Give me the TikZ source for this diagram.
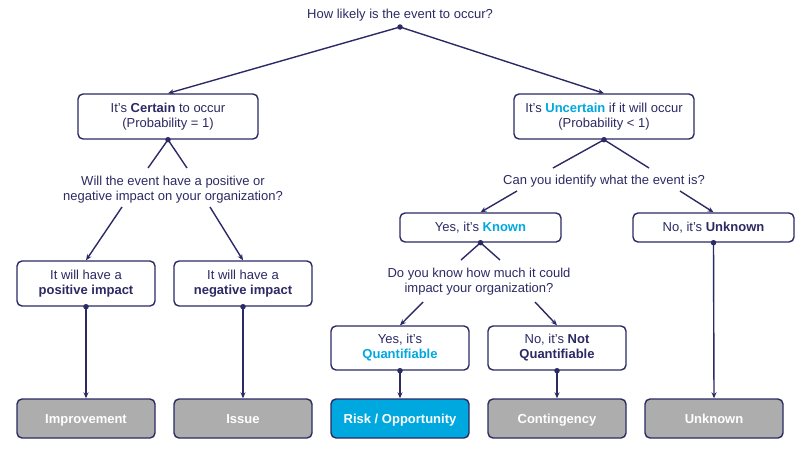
\documentclass[tikz,border=0pt]{standalone}
\usepackage{fontspec}
\setmainfont{Liberation Sans}
\usetikzlibrary{arrows.meta}

\definecolor{navy}{RGB}{43,42,100}
\definecolor{cyanblue}{RGB}{0,168,224}
\definecolor{boxgray}{RGB}{173,173,173}
\newcommand\basefont{\fontsize{13}{15}\selectfont}
\newcommand\hl[1]{\textcolor{cyanblue}{\textbf{#1}}}

\tikzset{
  box/.style={draw=navy, line width=1.4pt, rounded corners=5pt, fill=white, text=navy,
    align=center, inner sep=0pt, font=\basefont},
  endbox/.style={box, minimum width=138pt, minimum height=39pt, font=\basefont\bfseries, text=white,
    text height=11pt, text depth=1.7pt},
  quest/.style={text=navy, align=center, inner sep=1pt, font=\basefont},
  link/.style={navy, line width=1.4pt},
  arr/.style={link, -{Stealth[length=6pt,width=5pt]}},
  dot/.style={circle, fill=navy, inner sep=0pt, minimum size=5.5pt},
}

\begin{document}
\begin{tikzpicture}[x=1pt, y=-1pt]
  \useasboundingbox (0,0) rectangle (800,450);
  % questions
  \node[quest] (q0) at (400,15) {How likely is the event to occur?};
  \node[quest] (q1) at (173,190) {Will the event have a positive or\\negative impact on your organization?};
  \node[quest] (q2) at (604,181) {Can you identify what the event is?};
  \node[quest] (q3) at (479,282) {Do you know how much it could\\impact your organization?};
  % answers
  \node[box, minimum width=180pt, minimum height=45pt] (cert) at (168,116.5) {It’s \textbf{Certain} to occur\\(Probability = 1)};
  \node[box, minimum width=180pt, minimum height=45pt] (unc) at (604,116.5) {It’s \hl{Uncertain} if it will occur\\(Probability < 1)};
  \node[box, minimum width=138pt, minimum height=45pt] (pos) at (86,283.5) {It will have a\\\textbf{positive impact}};
  \node[box, minimum width=138pt, minimum height=45pt] (neg) at (243,283.5) {It will have a\\\textbf{negative impact}};
  \node[box, minimum width=161pt, minimum height=29pt] (known) at (480.5,227.5) {Yes, it’s \hl{Known}};
  \node[box, minimum width=161pt, minimum height=29pt] (unkq) at (713.5,227.5) {No, it’s \textbf{Unknown}};
  \node[box, minimum width=138pt, minimum height=44pt] (quant) at (400,348) {Yes, it’s\\\hl{Quantifiable}};
  \node[box, minimum width=138pt, minimum height=44pt] (notq) at (557,348) {No, it’s \textbf{Not}\\\textbf{Quantifiable}};
  % outcomes
  \foreach \t/\c [count=\i] in {Improvement/boxgray, Issue/boxgray, {Risk / Opportunity}/cyanblue, Contingency/boxgray, Unknown/boxgray}
    \node[endbox, fill=\c] (e\i) at ({86+157*(\i-1)},418.5) {\t};
  % dots
  \node[dot] (d0) at (400,27) {};
  \node[dot] (d1) at (cert.south) {};
  \node[dot] (d2) at (unc.south) {};
  \node[dot] (d3) at (known.south) {};
  % free ends
  \coordinate (w1a) at (148,168); \coordinate (w1b) at (187,168);
  \coordinate (w2a) at (553,168); \coordinate (w2b) at (649,168);
  \coordinate (w3a) at (461,260); \coordinate (w3b) at (500,260);
  \coordinate (s1a) at (122,207); \coordinate (s1b) at (210,207);
  \coordinate (s2a) at (517,191); \coordinate (s2b) at (680,191);
  \coordinate (s3a) at (423,302); \coordinate (s3b) at (535,302);
  % connectors
  \draw[arr] (d0.center) -- (cert.north);
  \draw[arr] (d0.center) -- (unc.north);
  \draw[link] (w1a) -- (d1.center) -- (w1b);
  \draw[link] (w2a) -- (d2.center) -- (w2b);
  \draw[link] (w3a) -- (d3.center) -- (w3b);
  \draw[arr] (s1a) -- (pos.north);
  \draw[arr] (s1b) -- (neg.north);
  \draw[arr] (s2a) -- (known.north);
  \draw[arr] (s2b) -- (unkq.north);
  \draw[arr] (s3a) -- (quant.north);
  \draw[arr] (s3b) -- (notq.north);
  \foreach \s [count=\i] in {pos,neg,quant,notq,unkq} {
    \node[dot] at (\s.south) {};
    \draw[arr] (\s.south) -- (e\i.north);
  }
\end{tikzpicture}
\end{document}
